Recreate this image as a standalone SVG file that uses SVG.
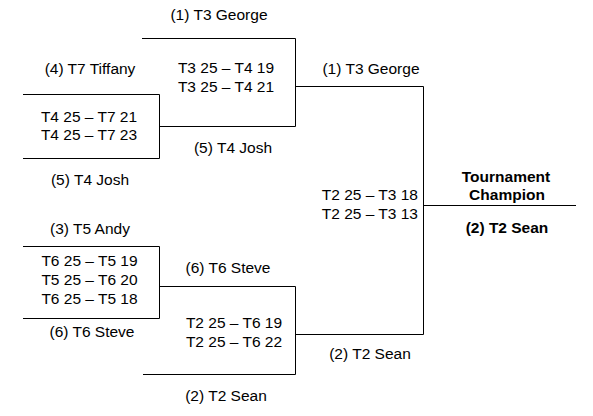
<svg xmlns="http://www.w3.org/2000/svg" width="593" height="416" viewBox="0 0 593 416">
<style>
text{font-family:"Liberation Sans",Arial,sans-serif;font-size:15.5px;fill:#000;text-anchor:middle}
.b{font-weight:bold}
.r{text-anchor:end}
.ln{stroke:#000;stroke-width:1;fill:none}
</style>
<rect width="593" height="416" fill="#fff"/>
<g id="connectors" class="ln">
<path d="M23 94.5H159.5V158.5H23"/>
<path d="M142 38.5H295.5V126.5H159.5"/>
<path d="M23 246.5H159.5V318.5H23"/>
<path d="M159.5 286.5H295.5V374.5H143"/>
<path d="M295.5 86.5H423.5V334.5H295.5"/>
<path d="M423.5 205.5H576"/>
</g>
<g id="match-t4-t7">
<text x="90" y="74">(4) T7 Tiffany</text>
<text x="89" y="122">T4 25 – T7 21</text>
<text x="89" y="140">T4 25 – T7 23</text>
<text x="90" y="185">(5) T4 Josh</text>
</g>
<g id="match-t3-t4">
<text x="219" y="20">(1) T3 George</text>
<text x="226" y="73">T3 25 – T4 19</text>
<text x="226" y="92">T3 25 – T4 21</text>
<text x="233" y="153">(5) T4 Josh</text>
</g>
<g id="match-t5-t6">
<text x="90" y="234">(3) T5 Andy</text>
<text x="89.5" y="266">T6 25 – T5 19</text>
<text x="89.5" y="285">T5 25 – T6 20</text>
<text x="89.5" y="304">T6 25 – T5 18</text>
<text x="92" y="337">(6) T6 Steve</text>
</g>
<g id="match-t2-t6">
<text x="228" y="273">(6) T6 Steve</text>
<text x="234" y="328">T2 25 – T6 19</text>
<text x="234" y="347">T2 25 – T6 22</text>
<text x="226" y="401">(2) T2 Sean</text>
</g>
<g id="final">
<text x="371" y="74">(1) T3 George</text>
<text class="r" x="418" y="200">T2 25 – T3 18</text>
<text class="r" x="418" y="219">T2 25 – T3 13</text>
<text x="370" y="359">(2) T2 Sean</text>
</g>
<g id="champion">
<text class="b" x="506" y="182">Tournament</text>
<text class="b" x="507" y="200">Champion</text>
<text class="b" x="507" y="233">(2) T2 Sean</text>
</g>
</svg>
